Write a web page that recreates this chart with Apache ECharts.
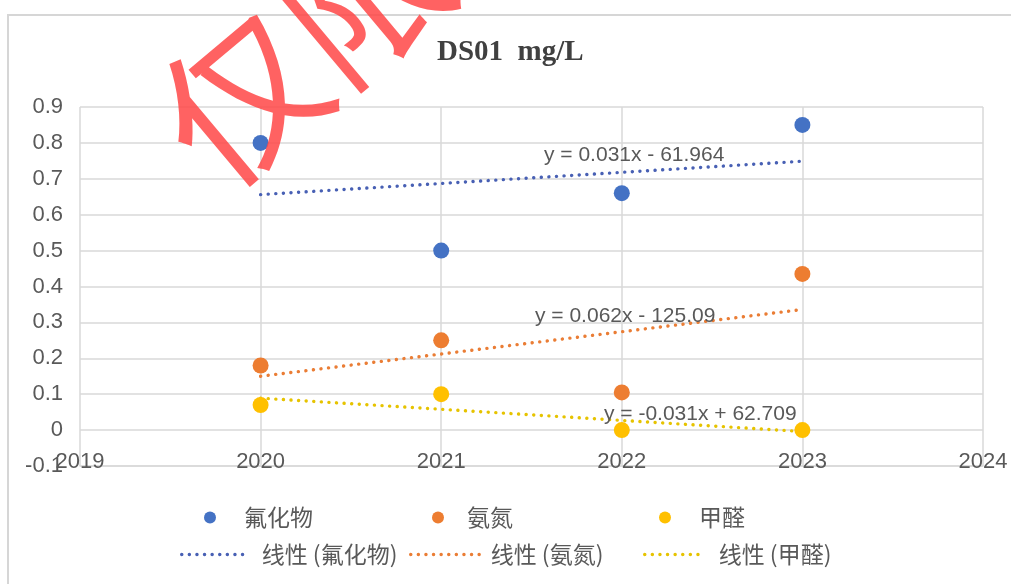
<!DOCTYPE html>
<html>
<head>
<meta charset="utf-8">
<script src="https://cdn.jsdelivr.net/npm/echarts@6/dist/echarts.min.js"></script>
<style>
  html, body { margin: 0; padding: 0; background: #ffffff; }
  #chart { width: 1011px; height: 584px; }
</style>
</head>
<body>
<div id="chart"></div>
<script>
// Monitoring point DS01, yearly concentrations (mg/L)
const years = [2020, 2021, 2022, 2023];
const fluoride = [0.80, 0.50, 0.66, 0.85];
const ammonia = [0.18, 0.25, 0.105, 0.435];
const formaldehyde = [0.07, 0.10, 0.00, 0.00];

const seriesNames = ['氟化物', '氨氮', '甲醛'];
const trendNames = ['线性 (氟化物)', '线性 (氨氮)', '线性 (甲醛)'];

// Linear trend coefficients as printed on the chart: y = slope * x + intercept
const trendSlopes = [0.031, 0.062, -0.031];
const trendIntercepts = [-61.964, -125.09, 62.709];
const trendLabels = ['y = 0.031x - 61.964', 'y = 0.062x - 125.09', 'y = -0.031x + 62.709'];

const xMin = 2019, xMax = 2024, xStep = 1;
const yMin = -0.1, yMax = 0.9, yStep = 0.1;

const titleText = 'DS01  mg/L';
const stampText = '仅限';

const colors = ['#4472C4', '#ED7D31', '#FFC000'];
const trendColors = ['#4860b4', '#ea7d35', '#e6c300'];
const gridColor = '#d9d9d9';
const textColor = '#595959';
const numFont = '"Liberation Sans Narrow", "Liberation Sans", Arial, sans-serif';
const cjkFont = '"Noto Sans CJK SC", "Noto Sans", sans-serif';
const dotted = [0.1, 7.5];

const values = [fluoride, ammonia, formaldehyde];

const scatterSeries = values.map((arr, i) => ({
  name: seriesNames[i],
  type: 'scatter',
  symbol: 'circle',
  symbolSize: 16,
  itemStyle: { color: colors[i], opacity: 1 },
  z: 5,
  data: years.map((y, k) => [y, arr[k]])
}));

const x0 = years[0], x1 = years[years.length - 1];
const trendSeries = trendSlopes.map((m, i) => ({
  name: trendNames[i],
  type: 'line',
  symbol: 'none',
  silent: true,
  z: 3,
  lineStyle: { color: trendColors[i], width: 3.4, type: dotted, cap: 'round' },
  itemStyle: { color: trendColors[i] },
  data: [[x0, m * x0 + trendIntercepts[i]], [x1, m * x1 + trendIntercepts[i]]]
}));

// individually placed legend entries
const legendPlaces = [
  { name: seriesNames[0], left: 204, top: 506, w: 12, h: 12, gap: 23, icon: 'circle' },
  { name: seriesNames[1], left: 432, top: 506, w: 12, h: 12, gap: 18, icon: 'circle' },
  { name: seriesNames[2], left: 659, top: 506, w: 12, h: 12, gap: 23, icon: 'circle' },
  { name: trendNames[0], left: 180, top: 543, w: 68, h: 6, gap: 7, color: trendColors[0] },
  { name: trendNames[1], left: 409, top: 543, w: 69, h: 6, gap: 6, color: trendColors[1] },
  { name: trendNames[2], left: 643, top: 543, w: 58, h: 6, gap: 11, color: trendColors[2] }
];

const legends = legendPlaces.map(p => {
  const lg = {
    data: [p.name],
    left: p.left,
    top: p.top,
    padding: 0,
    itemWidth: p.w,
    itemHeight: p.h,
    symbolKeepAspect: true,
    selectedMode: false,
    textStyle: {
      color: textColor,
      fontFamily: cjkFont,
      fontSize: 23,
      padding: [0, 0, 0, p.gap]
    }
  };
  if (p.icon) {
    lg.icon = p.icon;
  } else {
    lg.itemStyle = { color: 'rgba(0,0,0,0)', borderWidth: 0, opacity: 0 };
    lg.lineStyle = { color: p.color, width: 3.4, type: dotted, cap: 'round' };
  }
  return lg;
});

const eqPlaces = [
  { x: 544, y: 155 },
  { x: 535, y: 316 },
  { x: 604, y: 414 }
];

const chart = echarts.init(document.getElementById('chart'), null, { renderer: 'canvas' });
chart.setOption({
  backgroundColor: '#ffffff',
  animation: false,
  title: {
    text: titleText,
    left: 437,
    top: 38,
    padding: 0,
    textStyle: {
      fontFamily: '"Liberation Serif", "DejaVu Serif", serif',
      fontWeight: 'bold',
      fontSize: 29,
      color: '#404040'
    }
  },
  legend: legends,
  grid: { left: 80, right: 28, top: 107, bottom: 118, containLabel: false },
  xAxis: {
    type: 'value',
    min: xMin,
    max: xMax,
    interval: xStep,
    axisLine: { show: true, onZero: false, lineStyle: { color: gridColor, width: 1.5 } },
    axisTick: { show: false },
    splitLine: { show: true, lineStyle: { color: gridColor, width: 1.5 } },
    axisLabel: {
      color: textColor,
      fontFamily: numFont,
      fontSize: 22,
      verticalAlign: 'middle',
      margin: -4,
      showMinLabel: true,
      showMaxLabel: true,
      formatter: v => String(Math.round(v))
    }
  },
  yAxis: {
    type: 'value',
    min: yMin,
    max: yMax,
    interval: yStep,
    axisLine: { show: false },
    axisTick: { show: false },
    splitLine: { show: true, lineStyle: { color: gridColor, width: 1.5 } },
    axisLabel: {
      color: textColor,
      fontFamily: numFont,
      fontSize: 22,
      margin: 17,
      formatter: v => String(Number(v.toFixed(1)))
    }
  },
  series: trendSeries.concat(scatterSeries),
  graphic: [
    {
      type: 'rect',
      silent: true,
      z: -1,
      shape: { x: 8, y: 15, width: 1020, height: 600 },
      style: { fill: 'none', stroke: '#d6d6d6', lineWidth: 2 }
    },
    ...trendLabels.map((t, i) => ({
      type: 'text',
      silent: true,
      z: 10,
      x: eqPlaces[i].x,
      y: eqPlaces[i].y,
      style: {
        text: t,
        fill: textColor,
        font: '21px ' + numFont,
        align: 'left',
        verticalAlign: 'middle'
      }
    })),
    {
      type: 'text',
      silent: true,
      z: 100,
      x: 180,
      y: 150,
      rotation: 40 * Math.PI / 180,
      style: {
        text: stampText,
        fill: 'rgba(255, 70, 70, 0.85)',
        font: '160px ' + cjkFont,
        align: 'left',
        verticalAlign: 'middle'
      }
    }
  ]
});
</script>
</body>
</html>
